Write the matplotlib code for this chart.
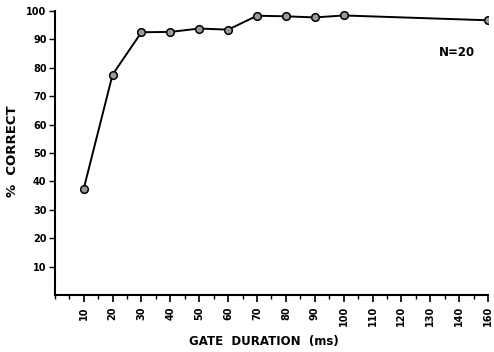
import matplotlib
matplotlib.use("Agg")
import matplotlib.pyplot as plt
from matplotlib.ticker import MultipleLocator

# gate durations (ms) and percent correct, N=20
gate_ms = [10, 20, 30, 40, 50, 60, 70, 80, 90, 100, 160]
pct_correct = [37.4, 77.6, 92.5, 92.6, 93.8, 93.4, 98.3, 98.1, 97.7, 98.4, 96.7]

# the original axis is labelled in equal steps, with 160 following 140
x_labels = ['10', '20', '30', '40', '50', '60', '70', '80', '90',
            '100', '110', '120', '130', '140', '160']
y_ticks = [10, 20, 30, 40, 50, 60, 70, 80, 90, 100]

plt.rcParams['font.family'] = 'DejaVu Sans'
plt.rcParams['font.weight'] = 'bold'

fig = plt.figure(figsize=(4.94, 3.52), dpi=100)
ax = fig.add_axes([0.111, 0.162, 0.877, 0.807])

xpos = [x_labels.index(str(g)) for g in gate_ms]
ax.plot(xpos, pct_correct, color='black', lw=1.4, marker='o', ms=5.5,
        markerfacecolor='#9a9a9a', markeredgecolor='black', mew=1.1)

ax.set_xlim(-1, len(x_labels) - 1)
ax.set_ylim(0, 100)
ax.set_xticks(range(len(x_labels)))
ax.set_xticklabels(x_labels, rotation=90, fontsize=7, fontweight='bold')
ax.xaxis.set_minor_locator(MultipleLocator(0.5))
ax.set_yticks(y_ticks)
ax.set_yticklabels([str(v) for v in y_ticks], fontsize=7, fontweight='bold')

ax.tick_params(axis='x', which='major', direction='out', length=5, width=1.2, pad=3)
ax.tick_params(axis='x', which='minor', direction='out', length=3, width=1.0)
ax.tick_params(axis='y', which='major', direction='out', length=4, width=1.0, pad=2)

for side in ['top', 'right']:
    ax.spines[side].set_visible(False)
for side in ['left', 'bottom']:
    ax.spines[side].set_linewidth(1.5)

# axis titles placed by hand to match the original spacing
ax.text(0.483, -0.165, 'GATE  DURATION  (ms)', transform=ax.transAxes,
        ha='center', va='center', fontsize=8.5, fontweight='bold')
ax.text(-0.097, 0.505, '%  CORRECT', transform=ax.transAxes, rotation=90,
        ha='center', va='center', fontsize=9.5, fontweight='bold')

ax.text(0.970, 0.852, 'N=20', transform=ax.transAxes, ha='right', va='center',
        fontsize=8.5, fontweight='bold')

fig.savefig('out.png', dpi=100)
